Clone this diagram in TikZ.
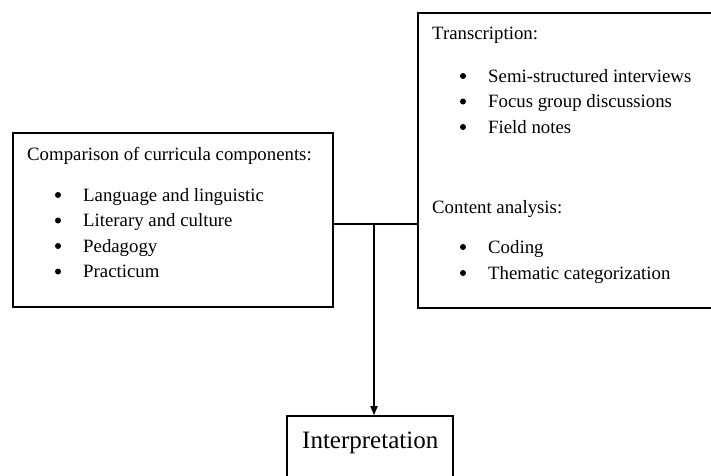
\documentclass[tikz,border=0pt]{standalone}
\usepackage{fontspec}
\setmainfont{Liberation Serif}
\usetikzlibrary{arrows.meta}
\begin{document}
\begin{tikzpicture}[x=1pt,y=-1pt,
  frame/.style={draw,line width=1.6pt,rectangle,inner sep=0pt},
  txt/.style={anchor=base west,inner sep=0pt,font=\fontsize{18.8}{22}\selectfont},
  bul/.style={circle,fill,inner sep=0pt,minimum size=6pt},
  link/.style={line width=1.6pt}]
\useasboundingbox (0,0) rectangle (711,475);
\clip (0,0) rectangle (711,475);
\fill[white] (0,0) rectangle (711,475);

% boxes
\node[frame,minimum width=320pt,minimum height=174pt] (comp) at (173,220) {};
\node[frame,minimum width=342pt,minimum height=295pt] (trans) at (589,160.5) {};
\node[frame,minimum width=166pt,minimum height=84pt] (interp) at (370,458) {};

% left box text
\node[txt] (c0) at (27,160.5) {Comparison of curricula components:};
\foreach \y/\t [count=\i] in {201/Language and linguistic,226.5/Literary and culture,252/Pedagogy,277.5/Practicum}{
  \node[bul] (cb\i) at (58,\y-6) {};
  \node[txt] (ct\i) at (83,\y) {\t};
}

% right box text
\node[txt] (t0) at (432,39) {Transcription:};
\foreach \y/\t [count=\i] in {82/Semi-structured interviews,107.5/Focus group discussions,133/Field notes}{
  \node[bul] (tb\i) at (463,\y-6) {};
  \node[txt] (tt\i) at (488,\y) {\t};
}
\node[txt] (a0) at (432,213) {Content analysis:};
\foreach \y/\t [count=\i] in {253/Coding,279/Thematic categorization}{
  \node[bul] (ab\i) at (463,\y-6) {};
  \node[txt] (at\i) at (488,\y) {\t};
}

% bottom box text
\node[txt,font=\fontsize{25}{29}\selectfont] (it) at (302,448) {Interpretation};

% connectors
\coordinate (j) at (374,224);
\draw[link] (comp.east |- j) -- (trans.west |- j);
\draw[link,-{Triangle[length=9pt,width=7pt]}] (j) -- (interp.north -| j);
\end{tikzpicture}
\end{document}
